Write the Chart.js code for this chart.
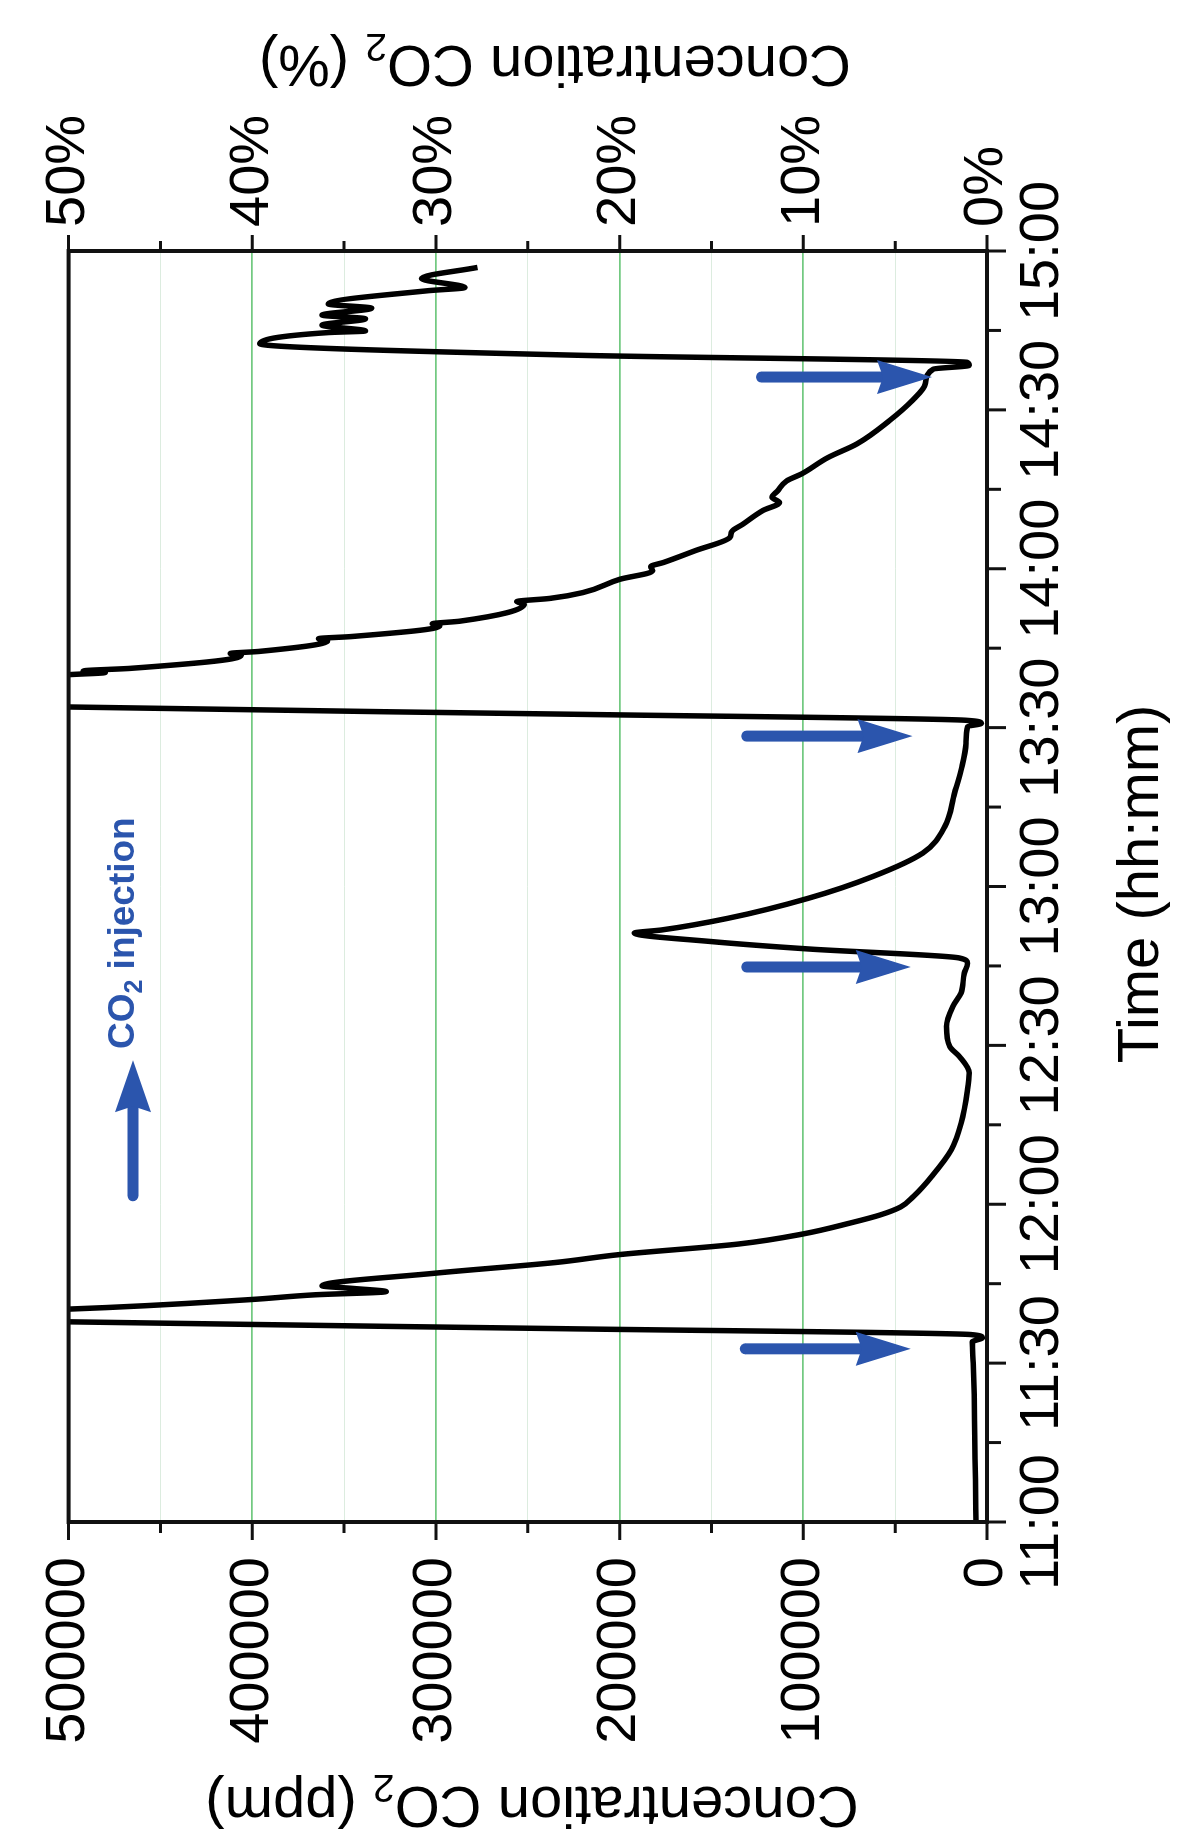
<!DOCTYPE html>
<html>
<head>
<meta charset="utf-8">
<script src="https://cdn.jsdelivr.net/npm/chart.js@4.4.1/dist/chart.umd.min.js"></script>
<style>
    html, body { margin: 0; padding: 0; background: #fff; }
    body { width: 1177px; height: 1847px; overflow: hidden; position: relative; }
    #wrap {
        position: absolute; left: 0; top: 0; width: 1847px; height: 1177px;
        transform-origin: 0 0; transform: translateY(1847px) rotate(-90deg);
    }
</style>
</head>
<body>
<div id="wrap"><canvas id="chart" width="1847" height="1177"></canvas></div>
<script>
// minutes after 11:00 and CO2 in ppm
const minutes = [
    0, 8, 16, 24, 30, 34.0, 34.8, 35.4, 36.5, 37.8, 39.0, 40.2, 42.0, 42.9, 43.5, 44.1, 44.6,
    47.0, 49.0, 50.5, 52.5, 54.4, 56.5, 58.0, 59.5, 61.5, 65.3, 70.3, 75.3, 81.6, 84.8, 87.9,
    89.8, 93.6, 97.4, 99.9, 103.6, 105.5, 106.5, 108.2, 109.6, 111.2, 111.8, 114.0, 117.8,
    121.9, 126.3, 131.3, 137.6, 142.0, 147.0, 150.2, 150.8, 151.4, 152.5, 153.9, 156.5,
    160.0, 160.4, 160.7, 161.2, 163.6, 164.0, 164.4, 166.4, 166.8, 167.2, 169.2, 169.6,
    170.1, 173.3, 173.8, 174.4, 175.5, 178.0, 179.6, 180.4, 181.2, 183.4, 185.9, 187.0,
    188.4, 191.0, 192.5, 193.5, 194.7, 196.6, 197.9, 201.0, 203.6, 208.0, 211.8, 214.9,
    217.7, 218.4, 219.0, 220.3, 222.5, 224.6, 224.9, 226.0, 227.2, 227.9, 229.2, 230.0,
    232.5, 233.1, 234.8, 236.9
];
const ppm = [
    6000, 6300, 6700, 7000, 7500, 8000, 2500, 9000, 230000, 500000, 620000, 500000, 401000,
    366000, 327000, 345000, 362000,
    300000, 235000, 200000, 135000, 100000, 74000, 58000, 47000, 40000, 30000, 19400, 14100,
    10600, 9700, 15000,
    20300, 22000, 18500, 14100, 12400, 10600, 15000, 97000, 150000, 192000, 177000, 141000,
    97000,
    62000, 35000, 23000, 17700, 14100, 11500, 10600, 3000, 12000, 220000, 500000, 620000,
    500000, 480000, 492000, 466000, 406000, 412000, 396000, 359000, 364000, 346000, 298000,
    302000,
    287000, 252000, 256000, 238000, 220000, 200000, 182000, 183000, 176000, 159000, 140000,
    139000,
    133000, 122000, 113000, 117000, 114000, 109000, 101000, 86600, 70700, 53000, 40600,
    33600,
    29200, 9700, 11000, 221000, 396000, 358600, 338300, 362000, 338300, 362000, 335000,
    358600,
    304500, 284200, 307900, 277400
];

const timeTicks = [0, 30, 60, 90, 120, 150, 180, 210, 240];
const timeLabels = ["11:00", "11:30", "12:00", "12:30", "13:00", "13:30", "14:00", "14:30", "15:00"];
const ppmLabels = ["0", "100000", "200000", "300000", "400000", "500000"];
const percentLabels = ["0%", "10%", "20%", "30%", "40%", "50%"];

// CO2 injections: time, arrow tail and head in ppm
const injectionMinutes = [32.7, 104.8, 148.4, 216.2];
const arrowFromPpm = [131600, 130800, 130800, 122800];
const arrowToPpm = [41500, 41500, 40600, 30000];

const blue = "#2b55ad";
const fontFamily = "'Liberation Sans', Arial, sans-serif";

function richText(ctx, parts, x, y, rotation, size, weight, align) {
    ctx.save();
    ctx.translate(x, y);
    ctx.rotate(rotation);
    ctx.textBaseline = "middle";
    ctx.textAlign = "left";
    const fontOf = (p) => `${weight} ${p.sub ? Math.round(size * 0.68) : size}px ${fontFamily}`;
    const widths = parts.map((p) => {
        ctx.font = fontOf(p);
        return ctx.measureText(p.text).width;
    });
    const total = widths.reduce((a, b) => a + b, 0);
    let cursor = align == "center" ? -total / 2 : 0;
    parts.forEach((p, i) => {
        ctx.font = fontOf(p);
        ctx.fillText(p.text, cursor, p.sub ? size * 0.3 : 0);
        cursor += widths[i];
    });
    ctx.restore();
}

function drawArrow(ctx, x1, y1, x2, y2, shaft, headLen, headWidth) {
    const len = Math.hypot(x2 - x1, y2 - y1);
    ctx.save();
    ctx.translate(x1, y1);
    ctx.rotate(Math.atan2(y2 - y1, x2 - x1));
    ctx.strokeStyle = blue;
    ctx.fillStyle = blue;
    ctx.lineWidth = shaft;
    ctx.lineCap = "round";
    ctx.beginPath();
    ctx.moveTo(0, 0);
    ctx.lineTo(len - headLen + 4, 0);
    ctx.stroke();
    ctx.beginPath();
    ctx.moveTo(len, 0);
    ctx.lineTo(len - headLen, -headWidth / 2);
    ctx.lineTo(len - headLen + 6, 0);
    ctx.lineTo(len - headLen, headWidth / 2);
    ctx.closePath();
    ctx.fill();
    ctx.restore();
}

const extras = {
    id: "extras",
    beforeDraw(chart) {
        const ctx = chart.ctx;
        ctx.save();
        ctx.fillStyle = "#fff";
        ctx.fillRect(0, 0, chart.width, chart.height);
        ctx.restore();
    },
    afterDatasetsDraw(chart) {
        const {ctx, chartArea: a, scales: {x, y, y2}} = chart;

        injectionMinutes.forEach((t, i) => {
            const px = x.getPixelForValue(t);
            drawArrow(ctx, px, y.getPixelForValue(arrowFromPpm[i]), px, y.getPixelForValue(arrowToPpm[i]), 11, 55, 34);
        });

        ctx.save();
        ctx.strokeStyle = "#111";
        ctx.lineWidth = 4;
        ctx.strokeRect(a.left, a.top, a.right - a.left, a.bottom - a.top);
        ctx.lineWidth = 3;
        ctx.beginPath();
        for (let v = 0; v <= 240; v += 15) {
            const px = x.getPixelForValue(v);
            ctx.moveTo(px, a.bottom);
            ctx.lineTo(px, a.bottom + (v % 30 == 0 ? 19 : 14));
        }
        for (let v = 0; v <= 500000; v += 50000) {
            const py = y.getPixelForValue(v);
            ctx.moveTo(a.left, py);
            ctx.lineTo(a.left - (v % 100000 == 0 ? 18 : 11), py);
        }
        for (let v = 0; v <= 50; v += 5) {
            const py = y2.getPixelForValue(v);
            ctx.moveTo(a.right, py);
            ctx.lineTo(a.right + (v % 10 == 0 ? 16 : 10), py);
        }
        ctx.stroke();
        ctx.restore();

        // legend: arrow + "CO2 injection"
        const ly = y.getPixelForValue(465000);
        drawArrow(ctx, x.getPixelForValue(61.6), ly, x.getPixelForValue(87.2), ly, 11, 52, 36);
        ctx.fillStyle = blue;
        richText(ctx, [{text: "CO"}, {text: "2", sub: true}, {text: " injection"}],
            x.getPixelForValue(89.3), y.getPixelForValue(470000), 0, 37, "bold", "left");

        ctx.fillStyle = "#000";
        richText(ctx, [{text: "Concentration CO"}, {text: "2", sub: true}, {text: " (ppm)"}],
            44, 532, -Math.PI / 2, 58, "normal", "center");
        richText(ctx, [{text: "Concentration CO"}, {text: "2", sub: true}, {text: " (%)"}],
            1785, 555, -Math.PI / 2, 58, "normal", "center");
        richText(ctx, [{text: "Time (hh:mm)"}], 963, 1142, 0, 58, "normal", "center");
    }
};

Chart.defaults.font.family = fontFamily;
Chart.defaults.color = "#000";

new Chart(document.getElementById("chart").getContext("2d"), {
    type: "line",
    data: {
        datasets: [{
            data: minutes.map((m, i) => ({x: m, y: ppm[i]})),
            borderColor: "#000",
            borderWidth: 5.5,
            pointRadius: 0,
            cubicInterpolationMode: "monotone",
            clip: 0,
            yAxisID: "y"
        }]
    },
    options: {
        responsive: false,
        devicePixelRatio: 1,
        animation: false,
        events: [],
        layout: { padding: { top: 44, left: 0, right: 0, bottom: 0 } },
        plugins: { legend: { display: false }, tooltip: { enabled: false } },
        scales: {
            x: {
                type: "linear",
                min: 0,
                max: 240,
                afterFit: (scale) => { scale.height = 190; },
                border: { display: false },
                grid: { display: false, drawTicks: false },
                ticks: {
                    stepSize: 30,
                    autoSkip: false,
                    maxRotation: 0,
                    minRotation: 0,
                    padding: 22,
                    font: { size: 56 },
                    callback: (v) => timeLabels[timeTicks.indexOf(v)]
                }
            },
            y: {
                position: "left",
                min: 0,
                max: 500000,
                afterFit: (scale) => { scale.width = 325; },
                border: { display: false },
                grid: {
                    drawTicks: false,
                    color: (c) => c.tick.value % 100000 == 0 ? "rgba(100,195,115,0.9)" : "rgba(205,228,210,0.7)",
                    lineWidth: (c) => c.tick.value % 100000 == 0 ? 1.8 : 1
                },
                ticks: {
                    stepSize: 50000,
                    autoSkip: false,
                    padding: 35,
                    font: { size: 56 },
                    callback: (v) => v % 100000 == 0 ? ppmLabels[v / 100000] : ""
                }
            },
            y2: {
                position: "right",
                min: 0,
                max: 50,
                afterFit: (scale) => { scale.width = 251; },
                border: { display: false },
                grid: { display: false, drawTicks: false },
                ticks: {
                    stepSize: 10,
                    autoSkip: false,
                    padding: 24,
                    font: { size: 56 },
                    callback: (v) => percentLabels[v / 10]
                }
            }
        }
    },
    plugins: [extras]
});
</script>
</body>
</html>
